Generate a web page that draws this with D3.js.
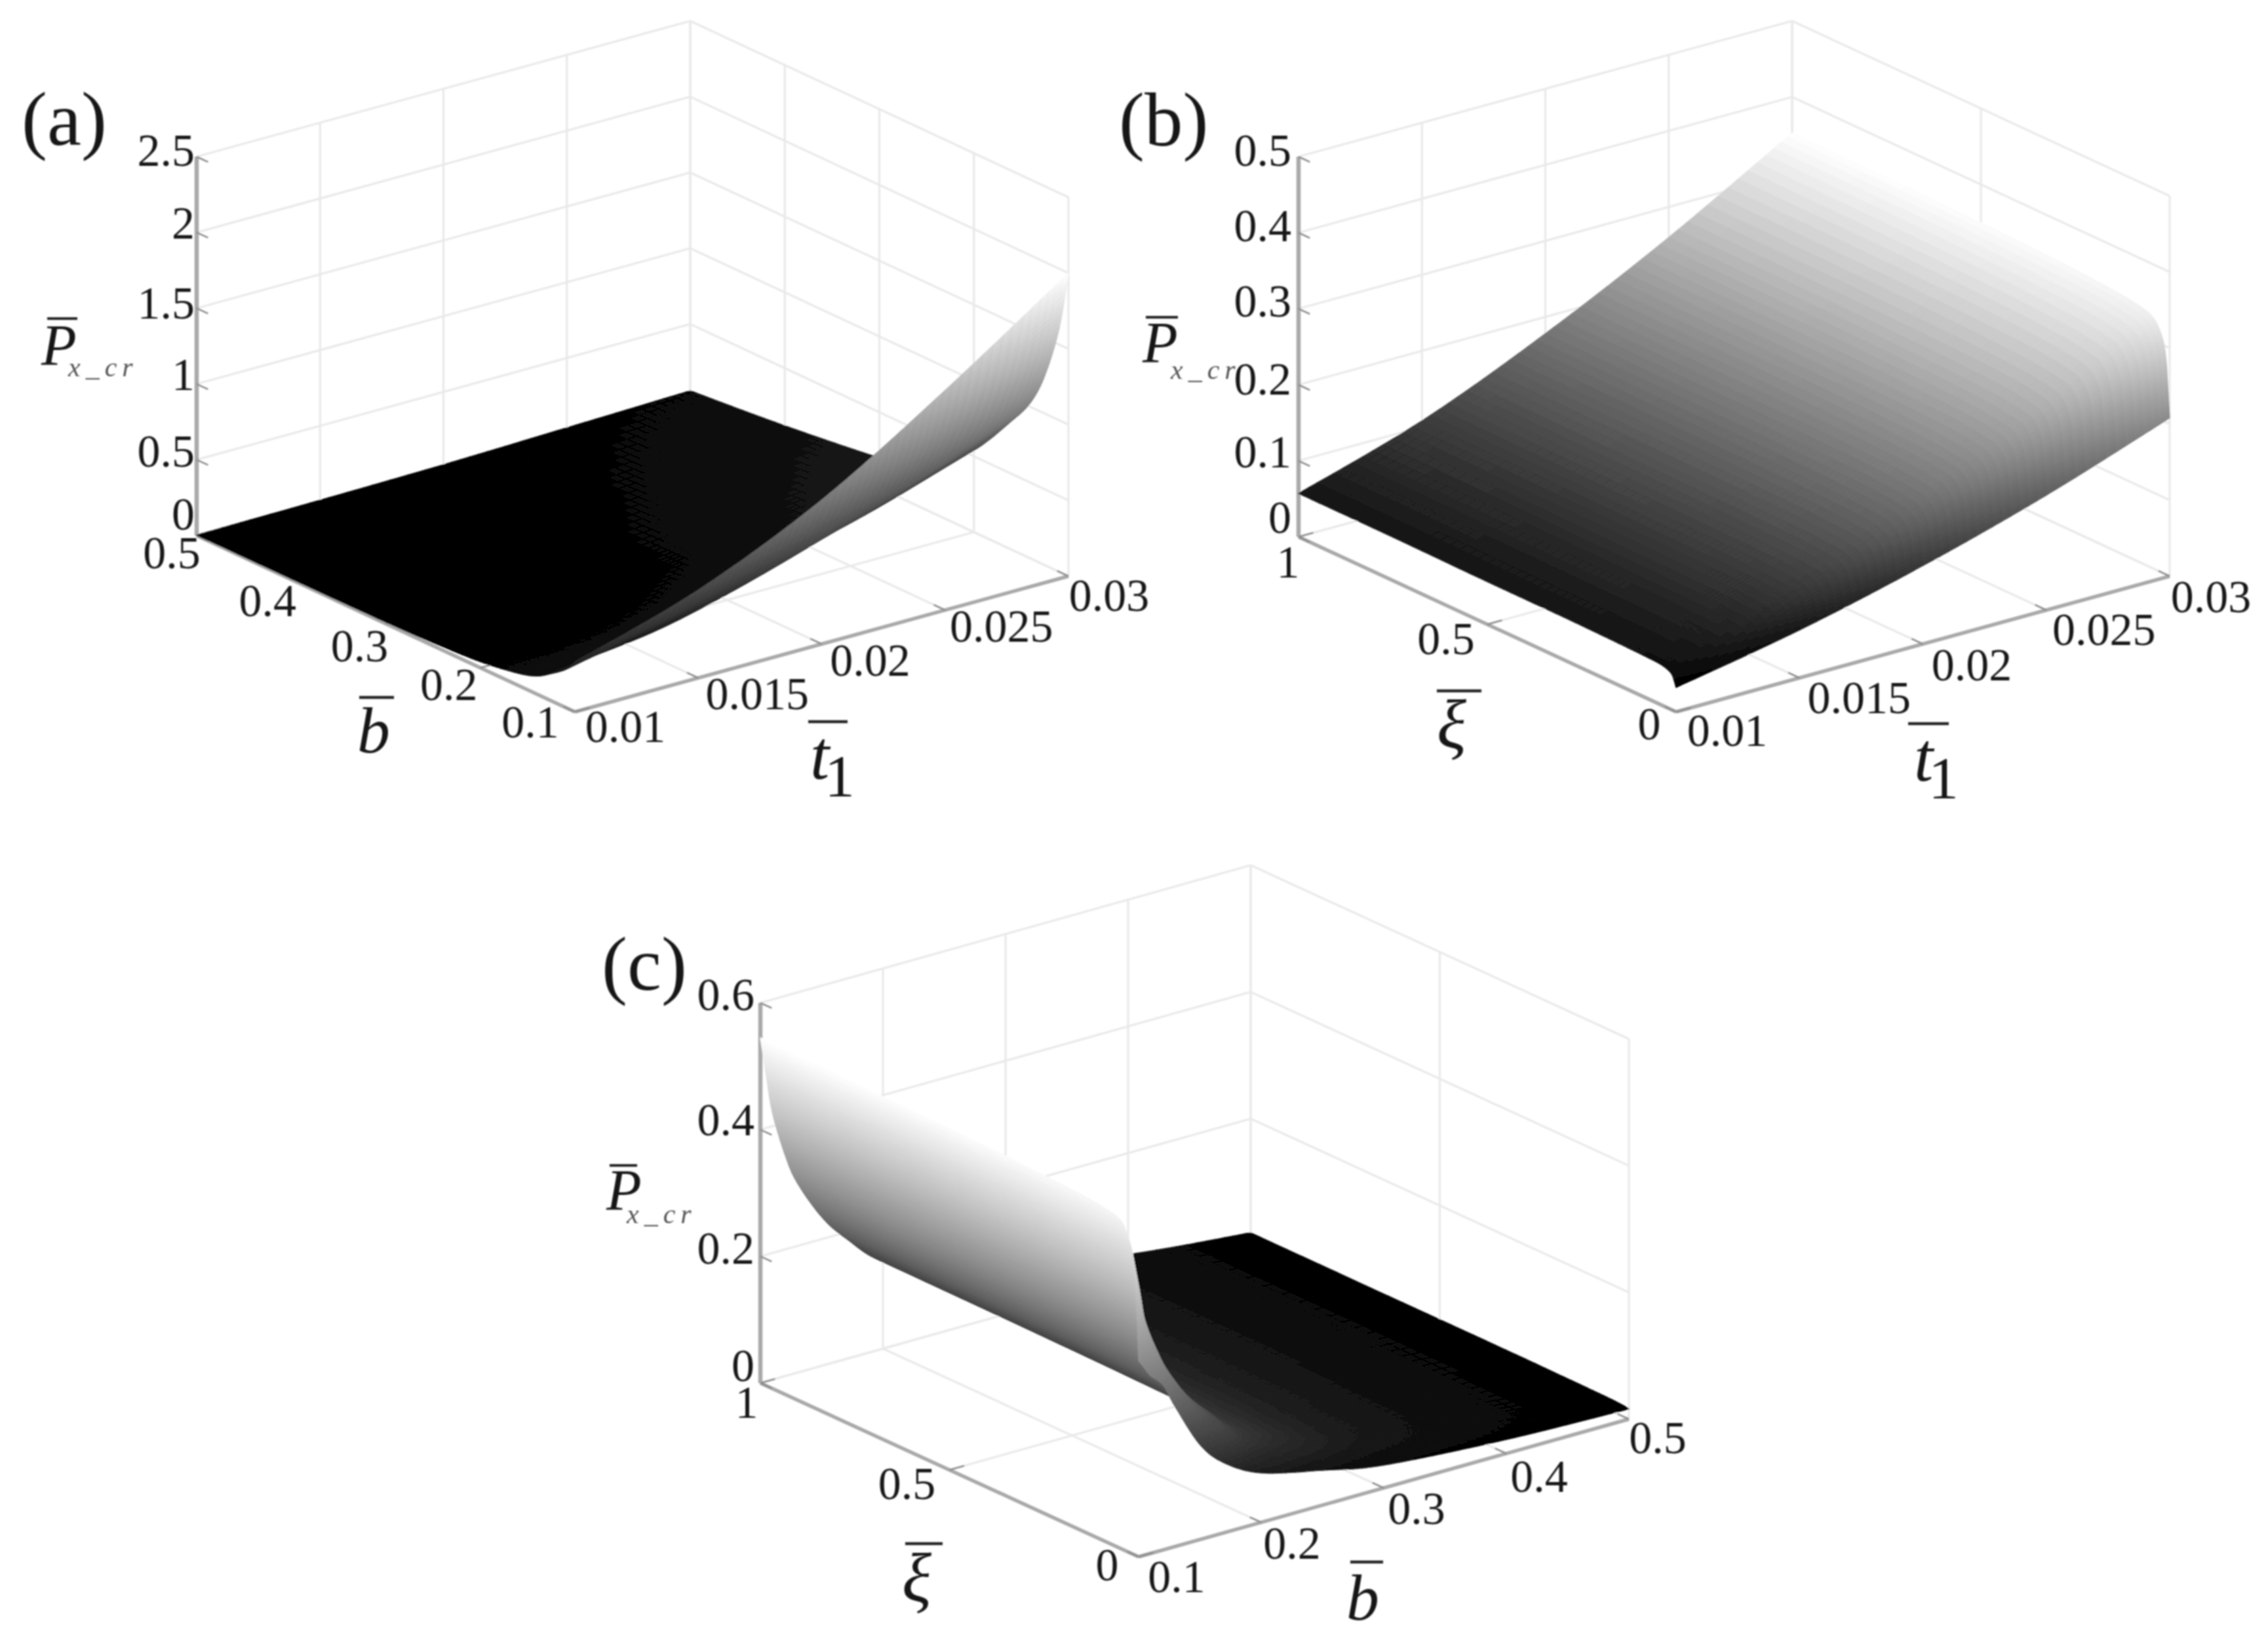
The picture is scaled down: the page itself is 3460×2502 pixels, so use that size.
<!DOCTYPE html>
<html><head><meta charset="utf-8">
<script src="https://cdnjs.cloudflare.com/ajax/libs/d3/7.8.5/d3.min.js"></script>
<style>html,body{margin:0;padding:0;background:#fff}svg{display:block}text{font-family:"Liberation Serif",serif;fill:#151515}</style>
</head><body><svg id="chart" width="3460" height="2502" viewBox="0 0 3460 2502"></svg>
<script>
// ---- values ----
const aThickness = [0.01, 0.015, 0.02, 0.025, 0.03];
const aWidth = [0.1, 0.11, 0.125, 0.14, 0.16, 0.2, 0.25, 0.3, 0.4, 0.5];
const aLoad = [
  [0.33, 0.25, 0.18, 0.12, 0.08, 0.04, 0.02, 0.01, 0.005, 0.003],
  [0.58, 0.44, 0.32, 0.21, 0.13, 0.05, 0.03, 0.02, 0.015, 0.01],
  [0.95, 0.75, 0.54, 0.43, 0.33, 0.13, 0.06, 0.05, 0.03, 0.02],
  [1.45, 1.15, 0.88, 0.70, 0.55, 0.30, 0.16, 0.12, 0.07, 0.04],
  [2.00, 1.60, 1.25, 1.03, 0.85, 0.54, 0.27, 0.20, 0.12, 0.06]
];
const bThickness = [0.01, 0.015, 0.02, 0.025, 0.03];
const bXi = [0, 0.005, 0.01, 0.02, 0.04, 0.07, 0.15, 0.3, 0.5, 0.75, 1];
const bLoad = [
  [0.032, 0.040, 0.046, 0.050, 0.053, 0.054, 0.055, 0.056, 0.056, 0.057, 0.057],
  [0.063, 0.076, 0.087, 0.095, 0.100, 0.102, 0.104, 0.105, 0.106, 0.107, 0.108],
  [0.103, 0.126, 0.145, 0.158, 0.167, 0.170, 0.173, 0.175, 0.176, 0.177, 0.178],
  [0.151, 0.186, 0.214, 0.232, 0.244, 0.248, 0.253, 0.256, 0.258, 0.259, 0.260],
  [0.208, 0.250, 0.285, 0.310, 0.328, 0.336, 0.342, 0.347, 0.350, 0.352, 0.353]
];
const cWidth = [0.1, 0.105, 0.11, 0.12, 0.13, 0.15, 0.17, 0.2, 0.25, 0.3, 0.4, 0.5];
const cXi = [0, 0.01, 0.03, 0.08, 0.3, 0.6, 1];
const cLoad = [
  [0.310, 0.440, 0.500, 0.525, 0.535, 0.540, 0.545],
  [0.295, 0.395, 0.440, 0.460, 0.470, 0.475, 0.480],
  [0.280, 0.345, 0.380, 0.400, 0.410, 0.416, 0.420],
  [0.260, 0.300, 0.318, 0.336, 0.343, 0.347, 0.350],
  [0.220, 0.260, 0.275, 0.288, 0.294, 0.297, 0.300],
  [0.150, 0.200, 0.215, 0.225, 0.230, 0.233, 0.235],
  [0.110, 0.160, 0.174, 0.182, 0.186, 0.188, 0.190],
  [0.078, 0.110, 0.124, 0.132, 0.135, 0.137, 0.138],
  [0.055, 0.078, 0.090, 0.095, 0.098, 0.099, 0.100],
  [0.036, 0.054, 0.065, 0.070, 0.073, 0.074, 0.075],
  [0.022, 0.028, 0.034, 0.037, 0.039, 0.040, 0.040],
  [0.016, 0.017, 0.018, 0.019, 0.020, 0.020, 0.020]
];
const thicknessTicks = [0.01, 0.015, 0.02, 0.025, 0.03];
const widthTicks = [0.1, 0.2, 0.3, 0.4, 0.5];
const xiTicks = [0, 0.5, 1];
const aLoadTicks = [0, 0.5, 1, 1.5, 2, 2.5];
const bLoadTicks = [0, 0.1, 0.2, 0.3, 0.4, 0.5];
const cLoadTicks = [0, 0.2, 0.4, 0.6];

// ---- layout ----
const panels = [
 { tag:"(a)", tagX:33, tagY:221,
   left:[300,817], front:[877,1086], right:[1630,879], zH:578,
   U:aThickness, V:aWidth, Z:aLoad, zMax:2.5, peak:2.0,
   uDom:[0.01,0.03], vDom:[0.1,0.5], uTicks:thicknessTicks, vTicks:widthTicks, zTicks:aLoadTicks,
   zDx:-3, zDy:[-9,11,9,16,9,14],
   uNudge:[[77,46],[90,48],[74,48],[86,48],[62,53]],
   vNudge:[[-68,39],[-48,49],[-40,57],[-36,56],[-38,50]],
   pX:63, pY:556, subX:104, subY:574, barP:[72,118,486],
   vTitle:{g:"b", x:545, y:1148, size:100, bar:[548,601,1064]},
   uTitle:{x:1236, y:1188, oneX:1258, oneY:1215, bar:[1233,1293,1101]}
 },
 { tag:"(b)", tagX:1707, tagY:222,
   left:[1981,819], front:[2557,1086], right:[3310,879], zH:580,
   U:bThickness, V:bXi, Z:bLoad, zMax:0.5, peak:0.353,
   uDom:[0.01,0.03], vDom:[0,1], uTicks:thicknessTicks, vTicks:xiTicks, zTicks:bLoadTicks,
   zDx:-11, zDy:[-6,10,15,12,13,14],
   uNudge:[[78,52],[91,54],[74.5,55],[88,53],[63,55]],
   vNudge:[[-41,42],[-63,45],[-16,62]],
   pX:1743, pY:552, subX:1786, subY:578, barP:[1748,1797,484],
   vTitle:{g:"ξ", x:2192, y:1141, size:105, bar:[2192,2260,1054]},
   uTitle:{x:2920, y:1191, oneX:2942, oneY:1218, bar:[2911,2973,1104]}
 },
 { tag:"(c)", tagX:918, tagY:1510,
   left:[1160,2110], front:[1737,2375], right:[2485,2165], zH:580,
   U:cWidth, V:cXi, Z:cLoad, zMax:0.6, peak:0.545,
   uDom:[0.1,0.5], vDom:[0,1], uTicks:widthTicks, vTicks:xiTicks, zTicks:cLoadTicks,
   zDx:-9, zDy:[-3,11,9,11],
   uNudge:[[58,54],[47,55],[50,55],[50,58],[44,52]],
   vNudge:[[-48,36],[-65,44],[-21,53]],
   pX:925, pY:1845, subX:956, subY:1866, barP:[930,972,1778],
   vTitle:{g:"ξ", x:1376, y:2443, size:105, bar:[1381,1438,2355]},
   uTitle:{g:"b", x:2054, y:2471, size:100, bar:[2060,2110,2383]}
 }
];
const TICK_FONT = 70, SUB_U = 14, SUB_V = 10;

const svg = d3.select("#chart");
svg.append("defs").append("filter").attr("id","soft")
  .attr("filterUnits","userSpaceOnUse").attr("x",0).attr("y",0).attr("width",3460).attr("height",2502)
  .append("feGaussianBlur").attr("stdDeviation",1.2);
const root = svg.append("g").attr("filter","url(#soft)");

const cr = (a,b,c,d,t) => 0.5*((2*b)+(-a+c)*t+(2*a-5*b+4*c-d)*t*t+(-a+3*b-3*c+d)*t*t*t);
const fmt = d => String(d);

panels.forEach(p => {
  const g = root.append("g");
  const uS = d3.scaleLinear().domain(p.uDom).range([0,1]);
  const vS = d3.scaleLinear().domain(p.vDom).range([0,1]);
  const zS = d3.scaleLinear().domain([0,p.zMax]).range([0,p.zH]);
  const zLow = d3.min(p.Z, r => d3.min(r));
  const gray = d3.scaleLinear().domain([zLow,p.peak]).range(["#000","#fff"]).clamp(true);
  const eu = [p.right[0]-p.front[0], p.right[1]-p.front[1]];
  const ev = [p.left[0]-p.front[0], p.left[1]-p.front[1]];
  const proj = (u,v,z) => [p.front[0]+eu[0]*u+ev[0]*v, p.front[1]+eu[1]*u+ev[1]*v-z];
  const line = (a,b,stroke,w) => g.append("line").attr("x1",a[0]).attr("y1",a[1]).attr("x2",b[0]).attr("y2",b[1])
      .attr("stroke",stroke).attr("stroke-width",w).attr("stroke-linecap","butt");
  const gridC = "#e9e9e9", gridW = 3.2;
  const top = zS(p.zMax);

  // back walls and floor grid
  p.zTicks.forEach(z => {
    line(proj(0,1,zS(z)), proj(1,1,zS(z)), gridC, gridW);
    line(proj(1,1,zS(z)), proj(1,0,zS(z)), gridC, gridW);
  });
  p.uTicks.forEach(t => {
    const u = uS(t);
    line(proj(u,1,0), proj(u,1,top), gridC, gridW);
    line(proj(u,0,0), proj(u,1,0), gridC, gridW);
  });
  p.vTicks.forEach(t => {
    const v = vS(t);
    line(proj(1,v,0), proj(1,v,top), gridC, gridW);
    line(proj(0,v,0), proj(1,v,0), gridC, gridW);
  });

  // axes and tick marks
  const axisC = "#a9a9a9";
  line(proj(0,1,0), proj(0,1,top), axisC, 6.5);
  line(proj(0,1,0), proj(0,0,0), axisC, 5.5);
  line(proj(0,0,0), proj(1,0,0), axisC, 5.5);
  const tickC = "#8c8c8c";
  p.zTicks.forEach(z => line(proj(0,1,zS(z)), proj(0,0.97,zS(z)), tickC, 2.5));
  p.uTicks.forEach(t => line(proj(uS(t),0,0), proj(uS(t),0.03,0), tickC, 2.5));
  p.vTicks.forEach(t => line(proj(0,vS(t),0), proj(0.03,vS(t),0), tickC, 2.5));

  // surface, painted from the far corner to the near corner
  const nU = p.U.length, nV = p.V.length;
  const G = p.U.map((u,i) => p.V.map((v,j) => {
    const s = proj(uS(u), vS(v), zS(p.Z[i][j]));
    return [s[0], s[1], p.Z[i][j]];
  }));
  const at = (i,j,k) => G[Math.max(0,Math.min(nU-1,i))][Math.max(0,Math.min(nV-1,j))][k];
  const sample = (i,j,fu,fv) => [0,1,2].map(k => {
    const col = [-1,0,1,2].map(di =>
      cr(at(i+di,j-1,k),at(i+di,j,k),at(i+di,j+1,k),at(i+di,j+2,k),fv));
    return cr(col[0],col[1],col[2],col[3],fu);
  });
  const cells = [];
  for (let i=nU-2;i>=0;i--) for (let j=nV-2;j>=0;j--) {
    const pts = d3.range(SUB_U+1).map(a => d3.range(SUB_V+1).map(b => sample(i,j,a/SUB_U,b/SUB_V)));
    for (let a=SUB_U-1;a>=0;a--) for (let b=SUB_V-1;b>=0;b--) {
      const q = [pts[a][b],pts[a+1][b],pts[a+1][b+1],pts[a][b+1]];
      cells.push({q, z:d3.mean(q,d=>d[2])});
    }
  }
  g.append("g").selectAll("polygon").data(cells).join("polygon")
    .attr("points", d => d.q.map(c => c[0].toFixed(1)+","+c[1].toFixed(1)).join(" "))
    .attr("fill", d => gray(d.z)).attr("stroke", d => gray(d.z)).attr("stroke-width",1.2);

  // tick labels
  const label = (txt,x,y,anchor) => g.append("text").attr("x",x).attr("y",y).attr("text-anchor",anchor)
      .attr("font-size",TICK_FONT).text(txt);
  p.zTicks.forEach((z,i) => {
    const s = proj(0,1,zS(z));
    label(fmt(z), s[0]+p.zDx, s[1]+p.zDy[i], "end");
  });
  p.uTicks.forEach((t,i) => {
    const s = proj(uS(t),0,0);
    label(fmt(t), s[0]+p.uNudge[i][0], s[1]+p.uNudge[i][1], "middle");
  });
  p.vTicks.forEach((t,i) => {
    const s = proj(0,vS(t),0);
    label(fmt(t), s[0]+p.vNudge[i][0], s[1]+p.vNudge[i][1], "middle");
  });

  // panel tag and axis titles
  g.append("text").attr("x",p.tagX).attr("y",p.tagY).attr("font-size",117).text(p.tag);
  const bar = (b,w) => line([b[0],b[2]],[b[1],b[2]],"#222",w);
  g.append("text").attr("x",p.pX).attr("y",p.pY).attr("font-size",88).attr("font-style","italic").text("P");
  bar(p.barP,4);
  g.append("text").attr("x",p.subX).attr("y",p.subY).attr("font-size",42).attr("font-style","italic")
    .attr("letter-spacing",8).style("fill","#555").text("x_cr");
  const t = p.vTitle;
  g.append("text").attr("x",t.x).attr("y",t.y).attr("font-size",t.size).attr("font-style","italic").text(t.g);
  bar(t.bar,4.5);
  const ut = p.uTitle;
  g.append("text").attr("x",ut.x).attr("y",ut.y).attr("font-size",ut.size || 105).attr("font-style","italic").text(ut.g || "t");
  if (!ut.g) g.append("text").attr("x",ut.oneX).attr("y",ut.oneY).attr("font-size",92).text("1");
  bar(ut.bar,4.5);
});
</script></body></html>
